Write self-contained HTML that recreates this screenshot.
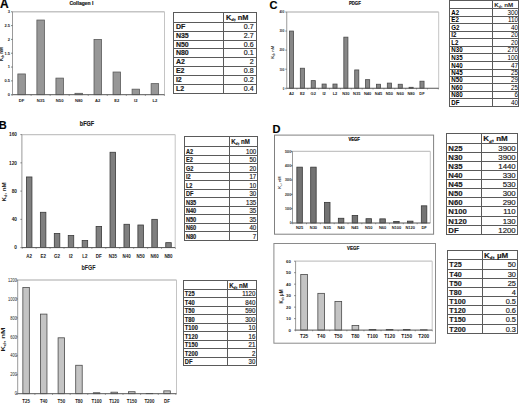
<!DOCTYPE html><html><head><meta charset="utf-8"><style>html,body{margin:0;padding:0;background:#fff;}svg{display:block;}svg text.t{stroke:#1a1a1a;stroke-width:0.18px;}</style></head><body>
<svg width="520" height="403" viewBox="0 0 520 403">
<rect width="520" height="403" fill="#fff"/>
<text x="0" y="8.4" font-size="12" text-anchor="start" font-weight="bold" fill="#000" font-family="Liberation Sans"  class="t">A</text>
<text x="81.4" y="5.3" font-size="5" text-anchor="middle" font-weight="bold" fill="#1a1a1a" font-family="Liberation Sans"  class="t">Collagen I</text>
<line x1="12.5" y1="11.75" x2="164.5" y2="11.75" stroke="#c4c4c4" stroke-width="1.3"/>
<line x1="164.5" y1="11.75" x2="164.5" y2="94.7" stroke="#c4c4c4" stroke-width="1"/>
<rect x="17.85" y="73.96" width="7.5" height="20.74" fill="#979797" stroke="#5a5a5a" stroke-width="0.8"/>
<rect x="36.89" y="20.04" width="7.5" height="74.66" fill="#979797" stroke="#5a5a5a" stroke-width="0.8"/>
<rect x="55.93" y="78.11" width="7.5" height="16.59" fill="#979797" stroke="#5a5a5a" stroke-width="0.8"/>
<rect x="74.97" y="93.32" width="7.5" height="1.38" fill="#979797" stroke="#5a5a5a" stroke-width="0.8"/>
<rect x="94.01" y="39.4" width="7.5" height="55.3" fill="#979797" stroke="#5a5a5a" stroke-width="0.8"/>
<rect x="113.05" y="72.03" width="7.5" height="22.67" fill="#979797" stroke="#5a5a5a" stroke-width="0.8"/>
<rect x="132.09" y="89.17" width="7.5" height="5.53" fill="#979797" stroke="#5a5a5a" stroke-width="0.8"/>
<rect x="151.13" y="83.64" width="7.5" height="11.06" fill="#979797" stroke="#5a5a5a" stroke-width="0.8"/>
<line x1="12.5" y1="11.75" x2="12.5" y2="94.7" stroke="#9a9a9a" stroke-width="1.0"/>
<line x1="12.5" y1="94.7" x2="164.5" y2="94.7" stroke="#555555" stroke-width="1.0"/>
<line x1="11.0" y1="94.7" x2="12.5" y2="94.7" stroke="#555555" stroke-width="0.7"/>
<text x="10.1" y="96.14" font-size="4.0" text-anchor="end" font-weight="bold" fill="#1a1a1a" font-family="Liberation Sans" >0</text>
<line x1="11.0" y1="80.88" x2="12.5" y2="80.88" stroke="#555555" stroke-width="0.7"/>
<text x="10.1" y="82.31" font-size="4.0" text-anchor="end" font-weight="bold" fill="#1a1a1a" font-family="Liberation Sans" >0.5</text>
<line x1="11.0" y1="67.05" x2="12.5" y2="67.05" stroke="#555555" stroke-width="0.7"/>
<text x="10.1" y="68.49" font-size="4.0" text-anchor="end" font-weight="bold" fill="#1a1a1a" font-family="Liberation Sans" >1</text>
<line x1="11.0" y1="53.23" x2="12.5" y2="53.23" stroke="#555555" stroke-width="0.7"/>
<text x="10.1" y="54.66" font-size="4.0" text-anchor="end" font-weight="bold" fill="#1a1a1a" font-family="Liberation Sans" >1.5</text>
<line x1="11.0" y1="39.4" x2="12.5" y2="39.4" stroke="#555555" stroke-width="0.7"/>
<text x="10.1" y="40.84" font-size="4.0" text-anchor="end" font-weight="bold" fill="#1a1a1a" font-family="Liberation Sans" >2</text>
<line x1="11.0" y1="25.58" x2="12.5" y2="25.58" stroke="#555555" stroke-width="0.7"/>
<text x="10.1" y="27.02" font-size="4.0" text-anchor="end" font-weight="bold" fill="#1a1a1a" font-family="Liberation Sans" >2.5</text>
<line x1="11.0" y1="11.75" x2="12.5" y2="11.75" stroke="#555555" stroke-width="0.7"/>
<text x="10.1" y="13.19" font-size="4.0" text-anchor="end" font-weight="bold" fill="#1a1a1a" font-family="Liberation Sans" >3</text>
<line x1="12.08" y1="94.7" x2="12.08" y2="95.9" stroke="#555555" stroke-width="0.6"/>
<line x1="31.12" y1="94.7" x2="31.12" y2="95.9" stroke="#555555" stroke-width="0.6"/>
<line x1="50.16" y1="94.7" x2="50.16" y2="95.9" stroke="#555555" stroke-width="0.6"/>
<line x1="69.2" y1="94.7" x2="69.2" y2="95.9" stroke="#555555" stroke-width="0.6"/>
<line x1="88.24" y1="94.7" x2="88.24" y2="95.9" stroke="#555555" stroke-width="0.6"/>
<line x1="107.28" y1="94.7" x2="107.28" y2="95.9" stroke="#555555" stroke-width="0.6"/>
<line x1="126.32" y1="94.7" x2="126.32" y2="95.9" stroke="#555555" stroke-width="0.6"/>
<line x1="145.36" y1="94.7" x2="145.36" y2="95.9" stroke="#555555" stroke-width="0.6"/>
<line x1="164.4" y1="94.7" x2="164.4" y2="95.9" stroke="#555555" stroke-width="0.6"/>
<text x="21.6" y="101.6" font-size="4.2" text-anchor="middle" font-weight="bold" fill="#1a1a1a" font-family="Liberation Sans" >DF</text>
<text x="40.64" y="101.6" font-size="4.2" text-anchor="middle" font-weight="bold" fill="#1a1a1a" font-family="Liberation Sans" >N35</text>
<text x="59.68" y="101.6" font-size="4.2" text-anchor="middle" font-weight="bold" fill="#1a1a1a" font-family="Liberation Sans" >N50</text>
<text x="78.72" y="101.6" font-size="4.2" text-anchor="middle" font-weight="bold" fill="#1a1a1a" font-family="Liberation Sans" >N80</text>
<text x="97.76" y="101.6" font-size="4.2" text-anchor="middle" font-weight="bold" fill="#1a1a1a" font-family="Liberation Sans" >A2</text>
<text x="116.8" y="101.6" font-size="4.2" text-anchor="middle" font-weight="bold" fill="#1a1a1a" font-family="Liberation Sans" >E2</text>
<text x="135.84" y="101.6" font-size="4.2" text-anchor="middle" font-weight="bold" fill="#1a1a1a" font-family="Liberation Sans" >I2</text>
<text x="154.88" y="101.6" font-size="4.2" text-anchor="middle" font-weight="bold" fill="#1a1a1a" font-family="Liberation Sans" >L2</text>
<text textLength="13.7" lengthAdjust="spacingAndGlyphs" x="3.2" y="54.2" font-size="4.5" text-anchor="middle" font-weight="bold" fill="#1a1a1a" font-family="Liberation Sans" transform="rotate(-90 3.2 54.2)">K<tspan font-size="2.79" dy="0.77">d</tspan><tspan dy="-0.77">, nM</tspan></text>
<rect x="173.5" y="12.5" width="83" height="81" fill="none" stroke="#5a5a5a" stroke-width="1"/>
<line x1="223.5" y1="12.5" x2="223.5" y2="93.5" stroke="#5a5a5a" stroke-width="1"/>
<line x1="173.5" y1="22.5" x2="256.5" y2="22.5" stroke="#5a5a5a" stroke-width="1"/>
<line x1="173.5" y1="31.5" x2="256.5" y2="31.5" stroke="#5a5a5a" stroke-width="1"/>
<line x1="173.5" y1="40.5" x2="256.5" y2="40.5" stroke="#5a5a5a" stroke-width="1"/>
<line x1="173.5" y1="48.5" x2="256.5" y2="48.5" stroke="#5a5a5a" stroke-width="1"/>
<line x1="173.5" y1="57.5" x2="256.5" y2="57.5" stroke="#5a5a5a" stroke-width="1"/>
<line x1="173.5" y1="66.5" x2="256.5" y2="66.5" stroke="#5a5a5a" stroke-width="1"/>
<line x1="173.5" y1="75.5" x2="256.5" y2="75.5" stroke="#5a5a5a" stroke-width="1"/>
<line x1="173.5" y1="84.5" x2="256.5" y2="84.5" stroke="#5a5a5a" stroke-width="1"/>
<text class="t" transform="translate(225.9 19.86) scale(1.0 1)" font-size="7.4" font-weight="bold" fill="#1a1a1a" font-family="Liberation Sans">K<tspan font-size="4.07" dy="1.33">d</tspan><tspan dy="-1.33">, nM</tspan></text>
<text x="175.9" y="29.22" font-size="7" text-anchor="start" font-weight="bold" fill="#1a1a1a" font-family="Liberation Sans"  class="t">DF</text>
<text x="253.6" y="29.22" font-size="7" text-anchor="end" font-weight="normal" fill="#1a1a1a" font-family="Liberation Sans"  class="t">0.7</text>
<text x="175.9" y="38.22" font-size="7" text-anchor="start" font-weight="bold" fill="#1a1a1a" font-family="Liberation Sans"  class="t">N35</text>
<text x="253.6" y="38.22" font-size="7" text-anchor="end" font-weight="normal" fill="#1a1a1a" font-family="Liberation Sans"  class="t">2.7</text>
<text x="175.9" y="46.72" font-size="7" text-anchor="start" font-weight="bold" fill="#1a1a1a" font-family="Liberation Sans"  class="t">N50</text>
<text x="253.6" y="46.72" font-size="7" text-anchor="end" font-weight="normal" fill="#1a1a1a" font-family="Liberation Sans"  class="t">0.6</text>
<text x="175.9" y="55.22" font-size="7" text-anchor="start" font-weight="bold" fill="#1a1a1a" font-family="Liberation Sans"  class="t">N80</text>
<text x="253.6" y="55.22" font-size="7" text-anchor="end" font-weight="normal" fill="#1a1a1a" font-family="Liberation Sans"  class="t">0.1</text>
<text x="175.9" y="64.22" font-size="7" text-anchor="start" font-weight="bold" fill="#1a1a1a" font-family="Liberation Sans"  class="t">A2</text>
<text x="253.6" y="64.22" font-size="7" text-anchor="end" font-weight="normal" fill="#1a1a1a" font-family="Liberation Sans"  class="t">2</text>
<text x="175.9" y="73.22" font-size="7" text-anchor="start" font-weight="bold" fill="#1a1a1a" font-family="Liberation Sans"  class="t">E2</text>
<text x="253.6" y="73.22" font-size="7" text-anchor="end" font-weight="normal" fill="#1a1a1a" font-family="Liberation Sans"  class="t">0.8</text>
<text x="175.9" y="82.22" font-size="7" text-anchor="start" font-weight="bold" fill="#1a1a1a" font-family="Liberation Sans"  class="t">I2</text>
<text x="253.6" y="82.22" font-size="7" text-anchor="end" font-weight="normal" fill="#1a1a1a" font-family="Liberation Sans"  class="t">0.2</text>
<text x="175.9" y="91.22" font-size="7" text-anchor="start" font-weight="bold" fill="#1a1a1a" font-family="Liberation Sans"  class="t">L2</text>
<text x="253.6" y="91.22" font-size="7" text-anchor="end" font-weight="normal" fill="#1a1a1a" font-family="Liberation Sans"  class="t">0.4</text>
<text x="-1.2" y="128.9" font-size="11" text-anchor="start" font-weight="bold" fill="#000" font-family="Liberation Sans"  class="t">B</text>
<text class="t" transform="translate(86.9 125.7) scale(0.82 1)" font-size="6.6" text-anchor="middle" font-weight="bold" fill="#1a1a1a" font-family="Liberation Sans">bFGF</text>
<line x1="21.9" y1="134.6" x2="175.2" y2="134.6" stroke="#c4c4c4" stroke-width="1.3"/>
<line x1="175.2" y1="134.6" x2="175.2" y2="247.6" stroke="#c4c4c4" stroke-width="1"/>
<rect x="26.45" y="176.97" width="5.5" height="70.62" fill="#7f7f7f" stroke="#3a3a3a" stroke-width="0.8"/>
<rect x="40.38" y="212.29" width="5.5" height="35.31" fill="#7f7f7f" stroke="#3a3a3a" stroke-width="0.8"/>
<rect x="54.31" y="233.47" width="5.5" height="14.12" fill="#7f7f7f" stroke="#3a3a3a" stroke-width="0.8"/>
<rect x="68.24" y="235.59" width="5.5" height="12.01" fill="#7f7f7f" stroke="#3a3a3a" stroke-width="0.8"/>
<rect x="82.17" y="240.54" width="5.5" height="7.06" fill="#7f7f7f" stroke="#3a3a3a" stroke-width="0.8"/>
<rect x="96.1" y="226.41" width="5.5" height="21.19" fill="#7f7f7f" stroke="#3a3a3a" stroke-width="0.8"/>
<rect x="110.03" y="152.26" width="5.5" height="95.34" fill="#7f7f7f" stroke="#3a3a3a" stroke-width="0.8"/>
<rect x="123.96" y="224.29" width="5.5" height="23.31" fill="#7f7f7f" stroke="#3a3a3a" stroke-width="0.8"/>
<rect x="137.89" y="225" width="5.5" height="22.6" fill="#7f7f7f" stroke="#3a3a3a" stroke-width="0.8"/>
<rect x="151.82" y="219.35" width="5.5" height="28.25" fill="#7f7f7f" stroke="#3a3a3a" stroke-width="0.8"/>
<rect x="165.75" y="242.66" width="5.5" height="4.94" fill="#7f7f7f" stroke="#3a3a3a" stroke-width="0.8"/>
<line x1="21.9" y1="134.6" x2="21.9" y2="247.6" stroke="#9a9a9a" stroke-width="1.0"/>
<line x1="21.9" y1="247.6" x2="175.2" y2="247.6" stroke="#555555" stroke-width="1.0"/>
<line x1="20.4" y1="247.6" x2="21.9" y2="247.6" stroke="#555555" stroke-width="0.7"/>
<text x="17" y="249.33" font-size="4.8" text-anchor="end" font-weight="bold" fill="#1a1a1a" font-family="Liberation Sans" >0</text>
<line x1="20.4" y1="219.35" x2="21.9" y2="219.35" stroke="#555555" stroke-width="0.7"/>
<text x="17" y="221.08" font-size="4.8" text-anchor="end" font-weight="bold" fill="#1a1a1a" font-family="Liberation Sans" >40</text>
<line x1="20.4" y1="191.1" x2="21.9" y2="191.1" stroke="#555555" stroke-width="0.7"/>
<text x="17" y="192.83" font-size="4.8" text-anchor="end" font-weight="bold" fill="#1a1a1a" font-family="Liberation Sans" >80</text>
<line x1="20.4" y1="162.85" x2="21.9" y2="162.85" stroke="#555555" stroke-width="0.7"/>
<text x="17" y="164.58" font-size="4.8" text-anchor="end" font-weight="bold" fill="#1a1a1a" font-family="Liberation Sans" >120</text>
<line x1="20.4" y1="134.6" x2="21.9" y2="134.6" stroke="#555555" stroke-width="0.7"/>
<text x="17" y="136.33" font-size="4.8" text-anchor="end" font-weight="bold" fill="#1a1a1a" font-family="Liberation Sans" >160</text>
<line x1="22.23" y1="247.6" x2="22.23" y2="248.79999999999998" stroke="#555555" stroke-width="0.6"/>
<line x1="36.16" y1="247.6" x2="36.16" y2="248.79999999999998" stroke="#555555" stroke-width="0.6"/>
<line x1="50.09" y1="247.6" x2="50.09" y2="248.79999999999998" stroke="#555555" stroke-width="0.6"/>
<line x1="64.03" y1="247.6" x2="64.03" y2="248.79999999999998" stroke="#555555" stroke-width="0.6"/>
<line x1="77.95" y1="247.6" x2="77.95" y2="248.79999999999998" stroke="#555555" stroke-width="0.6"/>
<line x1="91.89" y1="247.6" x2="91.89" y2="248.79999999999998" stroke="#555555" stroke-width="0.6"/>
<line x1="105.81" y1="247.6" x2="105.81" y2="248.79999999999998" stroke="#555555" stroke-width="0.6"/>
<line x1="119.75" y1="247.6" x2="119.75" y2="248.79999999999998" stroke="#555555" stroke-width="0.6"/>
<line x1="133.67" y1="247.6" x2="133.67" y2="248.79999999999998" stroke="#555555" stroke-width="0.6"/>
<line x1="147.6" y1="247.6" x2="147.6" y2="248.79999999999998" stroke="#555555" stroke-width="0.6"/>
<line x1="161.53" y1="247.6" x2="161.53" y2="248.79999999999998" stroke="#555555" stroke-width="0.6"/>
<line x1="175.46" y1="247.6" x2="175.46" y2="248.79999999999998" stroke="#555555" stroke-width="0.6"/>
<text transform="translate(29.2 257.5) scale(0.9 1)" font-size="5" text-anchor="middle" font-weight="bold" fill="#1a1a1a" font-family="Liberation Sans">A2</text>
<text transform="translate(43.13 257.5) scale(0.9 1)" font-size="5" text-anchor="middle" font-weight="bold" fill="#1a1a1a" font-family="Liberation Sans">E2</text>
<text transform="translate(57.06 257.5) scale(0.9 1)" font-size="5" text-anchor="middle" font-weight="bold" fill="#1a1a1a" font-family="Liberation Sans">G2</text>
<text transform="translate(70.99 257.5) scale(0.9 1)" font-size="5" text-anchor="middle" font-weight="bold" fill="#1a1a1a" font-family="Liberation Sans">I2</text>
<text transform="translate(84.92 257.5) scale(0.9 1)" font-size="5" text-anchor="middle" font-weight="bold" fill="#1a1a1a" font-family="Liberation Sans">L2</text>
<text transform="translate(98.85 257.5) scale(0.9 1)" font-size="5" text-anchor="middle" font-weight="bold" fill="#1a1a1a" font-family="Liberation Sans">DF</text>
<text transform="translate(112.78 257.5) scale(0.9 1)" font-size="5" text-anchor="middle" font-weight="bold" fill="#1a1a1a" font-family="Liberation Sans">N35</text>
<text transform="translate(126.71 257.5) scale(0.9 1)" font-size="5" text-anchor="middle" font-weight="bold" fill="#1a1a1a" font-family="Liberation Sans">N40</text>
<text transform="translate(140.64 257.5) scale(0.9 1)" font-size="5" text-anchor="middle" font-weight="bold" fill="#1a1a1a" font-family="Liberation Sans">N50</text>
<text transform="translate(154.57 257.5) scale(0.9 1)" font-size="5" text-anchor="middle" font-weight="bold" fill="#1a1a1a" font-family="Liberation Sans">N60</text>
<text transform="translate(168.5 257.5) scale(0.9 1)" font-size="5" text-anchor="middle" font-weight="bold" fill="#1a1a1a" font-family="Liberation Sans">N80</text>
<text textLength="19.2" lengthAdjust="spacingAndGlyphs" x="5.7" y="192" font-size="5.5" text-anchor="middle" font-weight="bold" fill="#1a1a1a" font-family="Liberation Sans" transform="rotate(-90 5.7 192)">K<tspan font-size="3.41" dy="0.94">d</tspan><tspan dy="-0.94">, nM</tspan></text>
<rect x="184.5" y="136.5" width="73" height="104" fill="none" stroke="#5a5a5a" stroke-width="1"/>
<line x1="229.5" y1="136.5" x2="229.5" y2="240.5" stroke="#5a5a5a" stroke-width="1"/>
<line x1="184.5" y1="146.5" x2="257.5" y2="146.5" stroke="#5a5a5a" stroke-width="1"/>
<line x1="184.5" y1="155.5" x2="257.5" y2="155.5" stroke="#5a5a5a" stroke-width="1"/>
<line x1="184.5" y1="163.5" x2="257.5" y2="163.5" stroke="#5a5a5a" stroke-width="1"/>
<line x1="184.5" y1="172.5" x2="257.5" y2="172.5" stroke="#5a5a5a" stroke-width="1"/>
<line x1="184.5" y1="180.5" x2="257.5" y2="180.5" stroke="#5a5a5a" stroke-width="1"/>
<line x1="184.5" y1="189.5" x2="257.5" y2="189.5" stroke="#5a5a5a" stroke-width="1"/>
<line x1="184.5" y1="197.5" x2="257.5" y2="197.5" stroke="#5a5a5a" stroke-width="1"/>
<line x1="184.5" y1="206.5" x2="257.5" y2="206.5" stroke="#5a5a5a" stroke-width="1"/>
<line x1="184.5" y1="214.5" x2="257.5" y2="214.5" stroke="#5a5a5a" stroke-width="1"/>
<line x1="184.5" y1="223.5" x2="257.5" y2="223.5" stroke="#5a5a5a" stroke-width="1"/>
<line x1="184.5" y1="231.5" x2="257.5" y2="231.5" stroke="#5a5a5a" stroke-width="1"/>
<text class="t" transform="translate(231.2 144.09) scale(0.85 1)" font-size="7.2" font-weight="bold" fill="#1a1a1a" font-family="Liberation Sans">K<tspan font-size="3.96" dy="1.3">d</tspan><tspan dy="-1.3">, nM</tspan></text>
<text class="t" transform="translate(185.9 153.59) scale(0.78 1)" font-size="7.2" text-anchor="start" font-weight="bold" fill="#1a1a1a" font-family="Liberation Sans">A2</text>
<text class="t" transform="translate(256.2 153.59) scale(0.85 1)" font-size="7.2" text-anchor="end" font-weight="normal" fill="#1a1a1a" font-family="Liberation Sans">100</text>
<text class="t" transform="translate(185.9 162.09) scale(0.78 1)" font-size="7.2" text-anchor="start" font-weight="bold" fill="#1a1a1a" font-family="Liberation Sans">E2</text>
<text class="t" transform="translate(256.2 162.09) scale(0.85 1)" font-size="7.2" text-anchor="end" font-weight="normal" fill="#1a1a1a" font-family="Liberation Sans">50</text>
<text class="t" transform="translate(185.9 170.59) scale(0.78 1)" font-size="7.2" text-anchor="start" font-weight="bold" fill="#1a1a1a" font-family="Liberation Sans">G2</text>
<text class="t" transform="translate(256.2 170.59) scale(0.85 1)" font-size="7.2" text-anchor="end" font-weight="normal" fill="#1a1a1a" font-family="Liberation Sans">20</text>
<text class="t" transform="translate(185.9 179.09) scale(0.78 1)" font-size="7.2" text-anchor="start" font-weight="bold" fill="#1a1a1a" font-family="Liberation Sans">I2</text>
<text class="t" transform="translate(256.2 179.09) scale(0.85 1)" font-size="7.2" text-anchor="end" font-weight="normal" fill="#1a1a1a" font-family="Liberation Sans">17</text>
<text class="t" transform="translate(185.9 187.59) scale(0.78 1)" font-size="7.2" text-anchor="start" font-weight="bold" fill="#1a1a1a" font-family="Liberation Sans">L2</text>
<text class="t" transform="translate(256.2 187.59) scale(0.85 1)" font-size="7.2" text-anchor="end" font-weight="normal" fill="#1a1a1a" font-family="Liberation Sans">10</text>
<text class="t" transform="translate(185.9 196.09) scale(0.78 1)" font-size="7.2" text-anchor="start" font-weight="bold" fill="#1a1a1a" font-family="Liberation Sans">DF</text>
<text class="t" transform="translate(256.2 196.09) scale(0.85 1)" font-size="7.2" text-anchor="end" font-weight="normal" fill="#1a1a1a" font-family="Liberation Sans">30</text>
<text class="t" transform="translate(185.9 204.59) scale(0.78 1)" font-size="7.2" text-anchor="start" font-weight="bold" fill="#1a1a1a" font-family="Liberation Sans">N35</text>
<text class="t" transform="translate(256.2 204.59) scale(0.85 1)" font-size="7.2" text-anchor="end" font-weight="normal" fill="#1a1a1a" font-family="Liberation Sans">135</text>
<text class="t" transform="translate(185.9 213.09) scale(0.78 1)" font-size="7.2" text-anchor="start" font-weight="bold" fill="#1a1a1a" font-family="Liberation Sans">N40</text>
<text class="t" transform="translate(256.2 213.09) scale(0.85 1)" font-size="7.2" text-anchor="end" font-weight="normal" fill="#1a1a1a" font-family="Liberation Sans">35</text>
<text class="t" transform="translate(185.9 221.59) scale(0.78 1)" font-size="7.2" text-anchor="start" font-weight="bold" fill="#1a1a1a" font-family="Liberation Sans">N50</text>
<text class="t" transform="translate(256.2 221.59) scale(0.85 1)" font-size="7.2" text-anchor="end" font-weight="normal" fill="#1a1a1a" font-family="Liberation Sans">35</text>
<text class="t" transform="translate(185.9 230.09) scale(0.78 1)" font-size="7.2" text-anchor="start" font-weight="bold" fill="#1a1a1a" font-family="Liberation Sans">N60</text>
<text class="t" transform="translate(256.2 230.09) scale(0.85 1)" font-size="7.2" text-anchor="end" font-weight="normal" fill="#1a1a1a" font-family="Liberation Sans">40</text>
<text class="t" transform="translate(185.9 238.59) scale(0.78 1)" font-size="7.2" text-anchor="start" font-weight="bold" fill="#1a1a1a" font-family="Liberation Sans">N80</text>
<text class="t" transform="translate(256.2 238.59) scale(0.85 1)" font-size="7.2" text-anchor="end" font-weight="normal" fill="#1a1a1a" font-family="Liberation Sans">7</text>
<text transform="translate(88.5 269.5) scale(0.85 1)" font-size="6.4" text-anchor="middle" font-weight="bold" fill="#222" font-family="Liberation Sans">bFGF</text>
<line x1="17.7" y1="280.0" x2="176.5" y2="280.0" stroke="#c4c4c4" stroke-width="1.3"/>
<line x1="176.5" y1="280.0" x2="176.5" y2="393.7" stroke="#c4c4c4" stroke-width="1"/>
<rect x="22.85" y="287.58" width="6.5" height="106.12" fill="#c4c4c4" stroke="#4a4a4a" stroke-width="0.8"/>
<rect x="40.47" y="314.11" width="6.5" height="79.59" fill="#c4c4c4" stroke="#4a4a4a" stroke-width="0.8"/>
<rect x="58.09" y="337.8" width="6.5" height="55.9" fill="#c4c4c4" stroke="#4a4a4a" stroke-width="0.8"/>
<rect x="75.71" y="365.27" width="6.5" height="28.43" fill="#c4c4c4" stroke="#4a4a4a" stroke-width="0.8"/>
<rect x="93.33" y="392.75" width="6.5" height="0.95" fill="#c4c4c4" stroke="#4a4a4a" stroke-width="0.8"/>
<rect x="110.95" y="392.18" width="6.5" height="1.52" fill="#c4c4c4" stroke="#4a4a4a" stroke-width="0.8"/>
<rect x="128.57" y="391.71" width="6.5" height="1.99" fill="#c4c4c4" stroke="#4a4a4a" stroke-width="0.8"/>
<rect x="146.19" y="393.51" width="6.5" height="0.19" fill="#c4c4c4" stroke="#4a4a4a" stroke-width="0.8"/>
<rect x="163.81" y="390.86" width="6.5" height="2.84" fill="#c4c4c4" stroke="#4a4a4a" stroke-width="0.8"/>
<line x1="17.7" y1="280.0" x2="17.7" y2="393.7" stroke="#9a9a9a" stroke-width="1.0"/>
<line x1="17.7" y1="393.7" x2="176.5" y2="393.7" stroke="#555555" stroke-width="1.0"/>
<line x1="16.2" y1="393.7" x2="17.7" y2="393.7" stroke="#555555" stroke-width="0.7"/>
<text transform="translate(16.9 395.36) scale(0.86 1)" font-size="4.6" text-anchor="end" font-weight="normal" fill="#1a1a1a" font-family="Liberation Sans">0</text>
<line x1="16.2" y1="374.75" x2="17.7" y2="374.75" stroke="#555555" stroke-width="0.7"/>
<text transform="translate(16.9 376.41) scale(0.86 1)" font-size="4.6" text-anchor="end" font-weight="normal" fill="#1a1a1a" font-family="Liberation Sans">200</text>
<line x1="16.2" y1="355.8" x2="17.7" y2="355.8" stroke="#555555" stroke-width="0.7"/>
<text transform="translate(16.9 357.46) scale(0.86 1)" font-size="4.6" text-anchor="end" font-weight="normal" fill="#1a1a1a" font-family="Liberation Sans">400</text>
<line x1="16.2" y1="336.85" x2="17.7" y2="336.85" stroke="#555555" stroke-width="0.7"/>
<text transform="translate(16.9 338.51) scale(0.86 1)" font-size="4.6" text-anchor="end" font-weight="normal" fill="#1a1a1a" font-family="Liberation Sans">600</text>
<line x1="16.2" y1="317.9" x2="17.7" y2="317.9" stroke="#555555" stroke-width="0.7"/>
<text transform="translate(16.9 319.56) scale(0.86 1)" font-size="4.6" text-anchor="end" font-weight="normal" fill="#1a1a1a" font-family="Liberation Sans">800</text>
<line x1="16.2" y1="298.95" x2="17.7" y2="298.95" stroke="#555555" stroke-width="0.7"/>
<text transform="translate(16.9 300.61) scale(0.86 1)" font-size="4.6" text-anchor="end" font-weight="normal" fill="#1a1a1a" font-family="Liberation Sans">1000</text>
<line x1="16.2" y1="280" x2="17.7" y2="280" stroke="#555555" stroke-width="0.7"/>
<text transform="translate(16.9 281.66) scale(0.86 1)" font-size="4.6" text-anchor="end" font-weight="normal" fill="#1a1a1a" font-family="Liberation Sans">1200</text>
<line x1="17.29" y1="393.7" x2="17.29" y2="394.9" stroke="#555555" stroke-width="0.6"/>
<line x1="34.91" y1="393.7" x2="34.91" y2="394.9" stroke="#555555" stroke-width="0.6"/>
<line x1="52.53" y1="393.7" x2="52.53" y2="394.9" stroke="#555555" stroke-width="0.6"/>
<line x1="70.15" y1="393.7" x2="70.15" y2="394.9" stroke="#555555" stroke-width="0.6"/>
<line x1="87.77" y1="393.7" x2="87.77" y2="394.9" stroke="#555555" stroke-width="0.6"/>
<line x1="105.39" y1="393.7" x2="105.39" y2="394.9" stroke="#555555" stroke-width="0.6"/>
<line x1="123.01" y1="393.7" x2="123.01" y2="394.9" stroke="#555555" stroke-width="0.6"/>
<line x1="140.63" y1="393.7" x2="140.63" y2="394.9" stroke="#555555" stroke-width="0.6"/>
<line x1="158.25" y1="393.7" x2="158.25" y2="394.9" stroke="#555555" stroke-width="0.6"/>
<line x1="175.87" y1="393.7" x2="175.87" y2="394.9" stroke="#555555" stroke-width="0.6"/>
<text transform="translate(26.1 402.7) scale(0.79 1)" font-size="5.6" text-anchor="middle" font-weight="bold" fill="#1a1a1a" font-family="Liberation Sans">T25</text>
<text transform="translate(43.72 402.7) scale(0.79 1)" font-size="5.6" text-anchor="middle" font-weight="bold" fill="#1a1a1a" font-family="Liberation Sans">T40</text>
<text transform="translate(61.34 402.7) scale(0.79 1)" font-size="5.6" text-anchor="middle" font-weight="bold" fill="#1a1a1a" font-family="Liberation Sans">T50</text>
<text transform="translate(78.96 402.7) scale(0.79 1)" font-size="5.6" text-anchor="middle" font-weight="bold" fill="#1a1a1a" font-family="Liberation Sans">T80</text>
<text transform="translate(96.58 402.7) scale(0.79 1)" font-size="5.6" text-anchor="middle" font-weight="bold" fill="#1a1a1a" font-family="Liberation Sans">T100</text>
<text transform="translate(114.2 402.7) scale(0.79 1)" font-size="5.6" text-anchor="middle" font-weight="bold" fill="#1a1a1a" font-family="Liberation Sans">T120</text>
<text transform="translate(131.82 402.7) scale(0.79 1)" font-size="5.6" text-anchor="middle" font-weight="bold" fill="#1a1a1a" font-family="Liberation Sans">T150</text>
<text transform="translate(149.44 402.7) scale(0.79 1)" font-size="5.6" text-anchor="middle" font-weight="bold" fill="#1a1a1a" font-family="Liberation Sans">T200</text>
<text transform="translate(167.06 402.7) scale(0.79 1)" font-size="5.6" text-anchor="middle" font-weight="bold" fill="#1a1a1a" font-family="Liberation Sans">DF</text>
<text textLength="24" lengthAdjust="spacingAndGlyphs" x="5.3" y="339.5" font-size="6" text-anchor="middle" font-weight="bold" fill="#1a1a1a" font-family="Liberation Sans" transform="rotate(-90 5.3 339.5)">K<tspan font-size="3.72" dy="1.02">d</tspan><tspan dy="-1.02">, nM</tspan></text>
<rect x="183.5" y="280.5" width="73" height="85" fill="none" stroke="#5a5a5a" stroke-width="1"/>
<line x1="227.5" y1="280.5" x2="227.5" y2="365.5" stroke="#5a5a5a" stroke-width="1"/>
<line x1="183.5" y1="289.5" x2="256.5" y2="289.5" stroke="#5a5a5a" stroke-width="1"/>
<line x1="183.5" y1="297.5" x2="256.5" y2="297.5" stroke="#5a5a5a" stroke-width="1"/>
<line x1="183.5" y1="306.5" x2="256.5" y2="306.5" stroke="#5a5a5a" stroke-width="1"/>
<line x1="183.5" y1="314.5" x2="256.5" y2="314.5" stroke="#5a5a5a" stroke-width="1"/>
<line x1="183.5" y1="323.5" x2="256.5" y2="323.5" stroke="#5a5a5a" stroke-width="1"/>
<line x1="183.5" y1="331.5" x2="256.5" y2="331.5" stroke="#5a5a5a" stroke-width="1"/>
<line x1="183.5" y1="340.5" x2="256.5" y2="340.5" stroke="#5a5a5a" stroke-width="1"/>
<line x1="183.5" y1="348.5" x2="256.5" y2="348.5" stroke="#5a5a5a" stroke-width="1"/>
<line x1="183.5" y1="357.5" x2="256.5" y2="357.5" stroke="#5a5a5a" stroke-width="1"/>
<text class="t" transform="translate(229.2 287.59) scale(0.85 1)" font-size="7.2" font-weight="bold" fill="#1a1a1a" font-family="Liberation Sans">K<tspan font-size="3.96" dy="1.3">d</tspan><tspan dy="-1.3">, nM</tspan></text>
<text class="t" transform="translate(184.8 296.09) scale(0.8 1)" font-size="7.2" text-anchor="start" font-weight="bold" fill="#1a1a1a" font-family="Liberation Sans">T25</text>
<text class="t" transform="translate(255.4 296.09) scale(0.85 1)" font-size="7.2" text-anchor="end" font-weight="normal" fill="#1a1a1a" font-family="Liberation Sans">1120</text>
<text class="t" transform="translate(184.8 304.59) scale(0.8 1)" font-size="7.2" text-anchor="start" font-weight="bold" fill="#1a1a1a" font-family="Liberation Sans">T40</text>
<text class="t" transform="translate(255.4 304.59) scale(0.85 1)" font-size="7.2" text-anchor="end" font-weight="normal" fill="#1a1a1a" font-family="Liberation Sans">840</text>
<text class="t" transform="translate(184.8 313.09) scale(0.8 1)" font-size="7.2" text-anchor="start" font-weight="bold" fill="#1a1a1a" font-family="Liberation Sans">T50</text>
<text class="t" transform="translate(255.4 313.09) scale(0.85 1)" font-size="7.2" text-anchor="end" font-weight="normal" fill="#1a1a1a" font-family="Liberation Sans">590</text>
<text class="t" transform="translate(184.8 321.59) scale(0.8 1)" font-size="7.2" text-anchor="start" font-weight="bold" fill="#1a1a1a" font-family="Liberation Sans">T80</text>
<text class="t" transform="translate(255.4 321.59) scale(0.85 1)" font-size="7.2" text-anchor="end" font-weight="normal" fill="#1a1a1a" font-family="Liberation Sans">300</text>
<text class="t" transform="translate(184.8 330.09) scale(0.8 1)" font-size="7.2" text-anchor="start" font-weight="bold" fill="#1a1a1a" font-family="Liberation Sans">T100</text>
<text class="t" transform="translate(255.4 330.09) scale(0.85 1)" font-size="7.2" text-anchor="end" font-weight="normal" fill="#1a1a1a" font-family="Liberation Sans">10</text>
<text class="t" transform="translate(184.8 338.59) scale(0.8 1)" font-size="7.2" text-anchor="start" font-weight="bold" fill="#1a1a1a" font-family="Liberation Sans">T120</text>
<text class="t" transform="translate(255.4 338.59) scale(0.85 1)" font-size="7.2" text-anchor="end" font-weight="normal" fill="#1a1a1a" font-family="Liberation Sans">16</text>
<text class="t" transform="translate(184.8 347.09) scale(0.8 1)" font-size="7.2" text-anchor="start" font-weight="bold" fill="#1a1a1a" font-family="Liberation Sans">T150</text>
<text class="t" transform="translate(255.4 347.09) scale(0.85 1)" font-size="7.2" text-anchor="end" font-weight="normal" fill="#1a1a1a" font-family="Liberation Sans">21</text>
<text class="t" transform="translate(184.8 355.59) scale(0.8 1)" font-size="7.2" text-anchor="start" font-weight="bold" fill="#1a1a1a" font-family="Liberation Sans">T200</text>
<text class="t" transform="translate(255.4 355.59) scale(0.85 1)" font-size="7.2" text-anchor="end" font-weight="normal" fill="#1a1a1a" font-family="Liberation Sans">2</text>
<text class="t" transform="translate(184.8 364.09) scale(0.8 1)" font-size="7.2" text-anchor="start" font-weight="bold" fill="#1a1a1a" font-family="Liberation Sans">DF</text>
<text class="t" transform="translate(255.4 364.09) scale(0.85 1)" font-size="7.2" text-anchor="end" font-weight="normal" fill="#1a1a1a" font-family="Liberation Sans">30</text>
<text x="269.5" y="8.6" font-size="11" text-anchor="start" font-weight="bold" fill="#000" font-family="Liberation Sans"  class="t">C</text>
<text class="t" transform="translate(354.85 4.7) scale(0.9 1)" font-size="4.8" text-anchor="middle" font-weight="bold" fill="#1a1a1a" font-family="Liberation Sans">PDGF</text>
<line x1="286.75" y1="12" x2="438.7" y2="12" stroke="#c4c4c4" stroke-width="1.3"/>
<line x1="438.7" y1="12" x2="438.7" y2="88.25" stroke="#c4c4c4" stroke-width="1"/>
<rect x="289.45" y="31.06" width="4.1" height="57.19" fill="#878787" stroke="#4a4a4a" stroke-width="0.8"/>
<rect x="300.32" y="68.23" width="4.1" height="20.02" fill="#878787" stroke="#4a4a4a" stroke-width="0.8"/>
<rect x="311.2" y="80.62" width="4.1" height="7.62" fill="#878787" stroke="#4a4a4a" stroke-width="0.8"/>
<rect x="322.07" y="84.06" width="4.1" height="4.19" fill="#878787" stroke="#4a4a4a" stroke-width="0.8"/>
<rect x="332.95" y="84.06" width="4.1" height="4.19" fill="#878787" stroke="#4a4a4a" stroke-width="0.8"/>
<rect x="343.82" y="37.16" width="4.1" height="51.09" fill="#878787" stroke="#4a4a4a" stroke-width="0.8"/>
<rect x="354.7" y="69.95" width="4.1" height="18.3" fill="#878787" stroke="#4a4a4a" stroke-width="0.8"/>
<rect x="365.57" y="79.67" width="4.1" height="8.58" fill="#878787" stroke="#4a4a4a" stroke-width="0.8"/>
<rect x="376.45" y="84.25" width="4.1" height="4" fill="#878787" stroke="#4a4a4a" stroke-width="0.8"/>
<rect x="387.32" y="83.1" width="4.1" height="5.15" fill="#878787" stroke="#4a4a4a" stroke-width="0.8"/>
<rect x="398.2" y="84.25" width="4.1" height="4" fill="#878787" stroke="#4a4a4a" stroke-width="0.8"/>
<rect x="409.07" y="87.3" width="4.1" height="0.95" fill="#878787" stroke="#4a4a4a" stroke-width="0.8"/>
<rect x="419.95" y="81.2" width="4.1" height="7.05" fill="#878787" stroke="#4a4a4a" stroke-width="0.8"/>
<line x1="286.75" y1="12" x2="286.75" y2="88.25" stroke="#9a9a9a" stroke-width="1.0"/>
<line x1="286.75" y1="88.25" x2="438.7" y2="88.25" stroke="#555555" stroke-width="1.0"/>
<line x1="285.25" y1="88.25" x2="286.75" y2="88.25" stroke="#555555" stroke-width="0.7"/>
<text transform="translate(284.25 89.62) scale(0.75 1)" font-size="3.8" text-anchor="end" font-weight="bold" fill="#1a1a1a" font-family="Liberation Sans">0</text>
<line x1="285.25" y1="69.19" x2="286.75" y2="69.19" stroke="#555555" stroke-width="0.7"/>
<text transform="translate(284.25 70.56) scale(0.75 1)" font-size="3.8" text-anchor="end" font-weight="bold" fill="#1a1a1a" font-family="Liberation Sans">100</text>
<line x1="285.25" y1="50.12" x2="286.75" y2="50.12" stroke="#555555" stroke-width="0.7"/>
<text transform="translate(284.25 51.49) scale(0.75 1)" font-size="3.8" text-anchor="end" font-weight="bold" fill="#1a1a1a" font-family="Liberation Sans">200</text>
<line x1="285.25" y1="31.06" x2="286.75" y2="31.06" stroke="#555555" stroke-width="0.7"/>
<text transform="translate(284.25 32.43) scale(0.75 1)" font-size="3.8" text-anchor="end" font-weight="bold" fill="#1a1a1a" font-family="Liberation Sans">300</text>
<line x1="285.25" y1="12" x2="286.75" y2="12" stroke="#555555" stroke-width="0.7"/>
<text transform="translate(284.25 13.37) scale(0.75 1)" font-size="3.8" text-anchor="end" font-weight="bold" fill="#1a1a1a" font-family="Liberation Sans">400</text>
<line x1="286.06" y1="88.25" x2="286.06" y2="89.45" stroke="#555555" stroke-width="0.6"/>
<line x1="296.94" y1="88.25" x2="296.94" y2="89.45" stroke="#555555" stroke-width="0.6"/>
<line x1="307.81" y1="88.25" x2="307.81" y2="89.45" stroke="#555555" stroke-width="0.6"/>
<line x1="318.69" y1="88.25" x2="318.69" y2="89.45" stroke="#555555" stroke-width="0.6"/>
<line x1="329.56" y1="88.25" x2="329.56" y2="89.45" stroke="#555555" stroke-width="0.6"/>
<line x1="340.44" y1="88.25" x2="340.44" y2="89.45" stroke="#555555" stroke-width="0.6"/>
<line x1="351.31" y1="88.25" x2="351.31" y2="89.45" stroke="#555555" stroke-width="0.6"/>
<line x1="362.19" y1="88.25" x2="362.19" y2="89.45" stroke="#555555" stroke-width="0.6"/>
<line x1="373.06" y1="88.25" x2="373.06" y2="89.45" stroke="#555555" stroke-width="0.6"/>
<line x1="383.94" y1="88.25" x2="383.94" y2="89.45" stroke="#555555" stroke-width="0.6"/>
<line x1="394.81" y1="88.25" x2="394.81" y2="89.45" stroke="#555555" stroke-width="0.6"/>
<line x1="405.69" y1="88.25" x2="405.69" y2="89.45" stroke="#555555" stroke-width="0.6"/>
<line x1="416.56" y1="88.25" x2="416.56" y2="89.45" stroke="#555555" stroke-width="0.6"/>
<line x1="427.44" y1="88.25" x2="427.44" y2="89.45" stroke="#555555" stroke-width="0.6"/>
<line x1="438.31" y1="88.25" x2="438.31" y2="89.45" stroke="#555555" stroke-width="0.6"/>
<text x="291.5" y="94.7" font-size="4" text-anchor="middle" font-weight="bold" fill="#1a1a1a" font-family="Liberation Sans" >A2</text>
<text x="302.38" y="94.7" font-size="4" text-anchor="middle" font-weight="bold" fill="#1a1a1a" font-family="Liberation Sans" >E2</text>
<text x="313.25" y="94.7" font-size="4" text-anchor="middle" font-weight="bold" fill="#1a1a1a" font-family="Liberation Sans" >G2</text>
<text x="324.12" y="94.7" font-size="4" text-anchor="middle" font-weight="bold" fill="#1a1a1a" font-family="Liberation Sans" >I2</text>
<text x="335" y="94.7" font-size="4" text-anchor="middle" font-weight="bold" fill="#1a1a1a" font-family="Liberation Sans" >L2</text>
<text x="345.88" y="94.7" font-size="4" text-anchor="middle" font-weight="bold" fill="#1a1a1a" font-family="Liberation Sans" >N30</text>
<text x="356.75" y="94.7" font-size="4" text-anchor="middle" font-weight="bold" fill="#1a1a1a" font-family="Liberation Sans" >N35</text>
<text x="367.62" y="94.7" font-size="4" text-anchor="middle" font-weight="bold" fill="#1a1a1a" font-family="Liberation Sans" >N40</text>
<text x="378.5" y="94.7" font-size="4" text-anchor="middle" font-weight="bold" fill="#1a1a1a" font-family="Liberation Sans" >N45</text>
<text x="389.38" y="94.7" font-size="4" text-anchor="middle" font-weight="bold" fill="#1a1a1a" font-family="Liberation Sans" >N50</text>
<text x="400.25" y="94.7" font-size="4" text-anchor="middle" font-weight="bold" fill="#1a1a1a" font-family="Liberation Sans" >N60</text>
<text x="411.12" y="94.7" font-size="4" text-anchor="middle" font-weight="bold" fill="#1a1a1a" font-family="Liberation Sans" >N80</text>
<text x="422" y="94.7" font-size="4" text-anchor="middle" font-weight="bold" fill="#1a1a1a" font-family="Liberation Sans" >DF</text>
<text textLength="12.9" lengthAdjust="spacingAndGlyphs" x="274.4" y="52.3" font-size="4.2" text-anchor="middle" font-weight="bold" fill="#444" font-family="Liberation Sans" transform="rotate(-90 274.4 52.3)">K<tspan font-size="2.6" dy="0.71">d</tspan><tspan dy="-0.71">, nM</tspan></text>
<rect x="449.5" y="0.5" width="69" height="106" fill="none" stroke="#5a5a5a" stroke-width="1"/>
<line x1="492.5" y1="0.5" x2="492.5" y2="106.5" stroke="#5a5a5a" stroke-width="1"/>
<line x1="449.5" y1="8.5" x2="518.5" y2="8.5" stroke="#5a5a5a" stroke-width="1"/>
<line x1="449.5" y1="16.5" x2="518.5" y2="16.5" stroke="#5a5a5a" stroke-width="1"/>
<line x1="449.5" y1="23.5" x2="518.5" y2="23.5" stroke="#5a5a5a" stroke-width="1"/>
<line x1="449.5" y1="31.5" x2="518.5" y2="31.5" stroke="#5a5a5a" stroke-width="1"/>
<line x1="449.5" y1="38.5" x2="518.5" y2="38.5" stroke="#5a5a5a" stroke-width="1"/>
<line x1="449.5" y1="46.5" x2="518.5" y2="46.5" stroke="#5a5a5a" stroke-width="1"/>
<line x1="449.5" y1="53.5" x2="518.5" y2="53.5" stroke="#5a5a5a" stroke-width="1"/>
<line x1="449.5" y1="61.5" x2="518.5" y2="61.5" stroke="#5a5a5a" stroke-width="1"/>
<line x1="449.5" y1="69.5" x2="518.5" y2="69.5" stroke="#5a5a5a" stroke-width="1"/>
<line x1="449.5" y1="76.5" x2="518.5" y2="76.5" stroke="#5a5a5a" stroke-width="1"/>
<line x1="449.5" y1="83.5" x2="518.5" y2="83.5" stroke="#5a5a5a" stroke-width="1"/>
<line x1="449.5" y1="91.5" x2="518.5" y2="91.5" stroke="#5a5a5a" stroke-width="1"/>
<line x1="449.5" y1="98.5" x2="518.5" y2="98.5" stroke="#5a5a5a" stroke-width="1"/>
<text transform="translate(494.2 6.73) scale(1.0 1)" font-size="6.2" font-weight="bold" fill="#1a1a1a" font-family="Liberation Sans">K<tspan font-size="3.41" dy="1.12">d</tspan><tspan dy="-1.12">, nM</tspan></text>
<text transform="translate(451.3 14.84) scale(0.95 1)" font-size="6.5" text-anchor="start" font-weight="bold" fill="#000" font-family="Liberation Sans">A2</text>
<text transform="translate(518.1 14.84) scale(0.97 1)" font-size="6.5" text-anchor="end" font-weight="normal" fill="#000" font-family="Liberation Sans">300</text>
<text transform="translate(451.3 22.34) scale(0.95 1)" font-size="6.5" text-anchor="start" font-weight="bold" fill="#000" font-family="Liberation Sans">E2</text>
<text transform="translate(518.1 22.34) scale(0.97 1)" font-size="6.5" text-anchor="end" font-weight="normal" fill="#000" font-family="Liberation Sans">110</text>
<text transform="translate(451.3 29.84) scale(0.95 1)" font-size="6.5" text-anchor="start" font-weight="bold" fill="#000" font-family="Liberation Sans">G2</text>
<text transform="translate(518.1 29.84) scale(0.97 1)" font-size="6.5" text-anchor="end" font-weight="normal" fill="#000" font-family="Liberation Sans">40</text>
<text transform="translate(451.3 37.34) scale(0.95 1)" font-size="6.5" text-anchor="start" font-weight="bold" fill="#000" font-family="Liberation Sans">I2</text>
<text transform="translate(518.1 37.34) scale(0.97 1)" font-size="6.5" text-anchor="end" font-weight="normal" fill="#000" font-family="Liberation Sans">20</text>
<text transform="translate(451.3 44.84) scale(0.95 1)" font-size="6.5" text-anchor="start" font-weight="bold" fill="#000" font-family="Liberation Sans">L2</text>
<text transform="translate(518.1 44.84) scale(0.97 1)" font-size="6.5" text-anchor="end" font-weight="normal" fill="#000" font-family="Liberation Sans">20</text>
<text transform="translate(451.3 52.34) scale(0.95 1)" font-size="6.5" text-anchor="start" font-weight="bold" fill="#000" font-family="Liberation Sans">N30</text>
<text transform="translate(518.1 52.34) scale(0.97 1)" font-size="6.5" text-anchor="end" font-weight="normal" fill="#000" font-family="Liberation Sans">270</text>
<text transform="translate(451.3 59.84) scale(0.95 1)" font-size="6.5" text-anchor="start" font-weight="bold" fill="#000" font-family="Liberation Sans">N35</text>
<text transform="translate(518.1 59.84) scale(0.97 1)" font-size="6.5" text-anchor="end" font-weight="normal" fill="#000" font-family="Liberation Sans">100</text>
<text transform="translate(451.3 67.84) scale(0.95 1)" font-size="6.5" text-anchor="start" font-weight="bold" fill="#000" font-family="Liberation Sans">N40</text>
<text transform="translate(518.1 67.84) scale(0.97 1)" font-size="6.5" text-anchor="end" font-weight="normal" fill="#000" font-family="Liberation Sans">47</text>
<text transform="translate(451.3 75.34) scale(0.95 1)" font-size="6.5" text-anchor="start" font-weight="bold" fill="#000" font-family="Liberation Sans">N45</text>
<text transform="translate(518.1 75.34) scale(0.97 1)" font-size="6.5" text-anchor="end" font-weight="normal" fill="#000" font-family="Liberation Sans">25</text>
<text transform="translate(451.3 82.34) scale(0.95 1)" font-size="6.5" text-anchor="start" font-weight="bold" fill="#000" font-family="Liberation Sans">N50</text>
<text transform="translate(518.1 82.34) scale(0.97 1)" font-size="6.5" text-anchor="end" font-weight="normal" fill="#000" font-family="Liberation Sans">29</text>
<text transform="translate(451.3 89.84) scale(0.95 1)" font-size="6.5" text-anchor="start" font-weight="bold" fill="#000" font-family="Liberation Sans">N60</text>
<text transform="translate(518.1 89.84) scale(0.97 1)" font-size="6.5" text-anchor="end" font-weight="normal" fill="#000" font-family="Liberation Sans">25</text>
<text transform="translate(451.3 97.34) scale(0.95 1)" font-size="6.5" text-anchor="start" font-weight="bold" fill="#000" font-family="Liberation Sans">N80</text>
<text transform="translate(518.1 97.34) scale(0.97 1)" font-size="6.5" text-anchor="end" font-weight="normal" fill="#000" font-family="Liberation Sans">6</text>
<text transform="translate(451.3 104.84) scale(0.95 1)" font-size="6.5" text-anchor="start" font-weight="bold" fill="#000" font-family="Liberation Sans">DF</text>
<text transform="translate(518.1 104.84) scale(0.97 1)" font-size="6.5" text-anchor="end" font-weight="normal" fill="#000" font-family="Liberation Sans">40</text>
<text x="272.6" y="133.2" font-size="11" text-anchor="start" font-weight="bold" fill="#000" font-family="Liberation Sans"  class="t">D</text>
<rect x="274.5" y="135.1" width="159.1" height="99.1" fill="none" stroke="#808080" stroke-width="1"/>
<text class="t" transform="translate(354.15 141.2) scale(0.9 1)" font-size="4.7" text-anchor="middle" font-weight="bold" fill="#000" font-family="Liberation Sans">VEGF</text>
<line x1="292.5" y1="151.4" x2="430.3" y2="151.4" stroke="#c4c4c4" stroke-width="1.3"/>
<line x1="430.3" y1="151.4" x2="430.3" y2="223.0" stroke="#c4c4c4" stroke-width="1"/>
<rect x="296.85" y="167.15" width="5.5" height="55.85" fill="#737373" stroke="#383838" stroke-width="0.8"/>
<rect x="310.68" y="167.15" width="5.5" height="55.85" fill="#737373" stroke="#383838" stroke-width="0.8"/>
<rect x="324.51" y="202.38" width="5.5" height="20.62" fill="#737373" stroke="#383838" stroke-width="0.8"/>
<rect x="338.34" y="218.27" width="5.5" height="4.73" fill="#737373" stroke="#383838" stroke-width="0.8"/>
<rect x="352.17" y="215.41" width="5.5" height="7.59" fill="#737373" stroke="#383838" stroke-width="0.8"/>
<rect x="366" y="218.7" width="5.5" height="4.3" fill="#737373" stroke="#383838" stroke-width="0.8"/>
<rect x="379.83" y="218.85" width="5.5" height="4.15" fill="#737373" stroke="#383838" stroke-width="0.8"/>
<rect x="393.66" y="221.42" width="5.5" height="1.58" fill="#737373" stroke="#383838" stroke-width="0.8"/>
<rect x="407.49" y="221.14" width="5.5" height="1.86" fill="#737373" stroke="#383838" stroke-width="0.8"/>
<rect x="421.32" y="205.82" width="5.5" height="17.18" fill="#737373" stroke="#383838" stroke-width="0.8"/>
<line x1="292.5" y1="151.4" x2="292.5" y2="223.0" stroke="#9a9a9a" stroke-width="1.0"/>
<line x1="292.5" y1="223.0" x2="430.3" y2="223.0" stroke="#555555" stroke-width="1.0"/>
<line x1="291.0" y1="223" x2="292.5" y2="223" stroke="#555555" stroke-width="0.7"/>
<text transform="translate(291.3 224.3) scale(0.8 1)" font-size="3.6" text-anchor="end" font-weight="bold" fill="#1a1a1a" font-family="Liberation Sans">0</text>
<line x1="291.0" y1="208.68" x2="292.5" y2="208.68" stroke="#555555" stroke-width="0.7"/>
<text transform="translate(291.3 209.98) scale(0.8 1)" font-size="3.6" text-anchor="end" font-weight="bold" fill="#1a1a1a" font-family="Liberation Sans">1000</text>
<line x1="291.0" y1="194.36" x2="292.5" y2="194.36" stroke="#555555" stroke-width="0.7"/>
<text transform="translate(291.3 195.66) scale(0.8 1)" font-size="3.6" text-anchor="end" font-weight="bold" fill="#1a1a1a" font-family="Liberation Sans">2000</text>
<line x1="291.0" y1="180.04" x2="292.5" y2="180.04" stroke="#555555" stroke-width="0.7"/>
<text transform="translate(291.3 181.34) scale(0.8 1)" font-size="3.6" text-anchor="end" font-weight="bold" fill="#1a1a1a" font-family="Liberation Sans">3000</text>
<line x1="291.0" y1="165.72" x2="292.5" y2="165.72" stroke="#555555" stroke-width="0.7"/>
<text transform="translate(291.3 167.02) scale(0.8 1)" font-size="3.6" text-anchor="end" font-weight="bold" fill="#1a1a1a" font-family="Liberation Sans">4000</text>
<line x1="291.0" y1="151.4" x2="292.5" y2="151.4" stroke="#555555" stroke-width="0.7"/>
<text transform="translate(291.3 152.7) scale(0.8 1)" font-size="3.6" text-anchor="end" font-weight="bold" fill="#1a1a1a" font-family="Liberation Sans">5000</text>
<line x1="292.69" y1="223.0" x2="292.69" y2="224.2" stroke="#555555" stroke-width="0.6"/>
<line x1="306.52" y1="223.0" x2="306.52" y2="224.2" stroke="#555555" stroke-width="0.6"/>
<line x1="320.35" y1="223.0" x2="320.35" y2="224.2" stroke="#555555" stroke-width="0.6"/>
<line x1="334.18" y1="223.0" x2="334.18" y2="224.2" stroke="#555555" stroke-width="0.6"/>
<line x1="348" y1="223.0" x2="348" y2="224.2" stroke="#555555" stroke-width="0.6"/>
<line x1="361.84" y1="223.0" x2="361.84" y2="224.2" stroke="#555555" stroke-width="0.6"/>
<line x1="375.67" y1="223.0" x2="375.67" y2="224.2" stroke="#555555" stroke-width="0.6"/>
<line x1="389.5" y1="223.0" x2="389.5" y2="224.2" stroke="#555555" stroke-width="0.6"/>
<line x1="403.33" y1="223.0" x2="403.33" y2="224.2" stroke="#555555" stroke-width="0.6"/>
<line x1="417.16" y1="223.0" x2="417.16" y2="224.2" stroke="#555555" stroke-width="0.6"/>
<text x="299.6" y="228.6" font-size="4" text-anchor="middle" font-weight="bold" fill="#1a1a1a" font-family="Liberation Sans" >N25</text>
<text x="313.43" y="228.6" font-size="4" text-anchor="middle" font-weight="bold" fill="#1a1a1a" font-family="Liberation Sans" >N30</text>
<text x="327.26" y="228.6" font-size="4" text-anchor="middle" font-weight="bold" fill="#1a1a1a" font-family="Liberation Sans" >N35</text>
<text x="341.09" y="228.6" font-size="4" text-anchor="middle" font-weight="bold" fill="#1a1a1a" font-family="Liberation Sans" >N40</text>
<text x="354.92" y="228.6" font-size="4" text-anchor="middle" font-weight="bold" fill="#1a1a1a" font-family="Liberation Sans" >N45</text>
<text x="368.75" y="228.6" font-size="4" text-anchor="middle" font-weight="bold" fill="#1a1a1a" font-family="Liberation Sans" >N50</text>
<text x="382.58" y="228.6" font-size="4" text-anchor="middle" font-weight="bold" fill="#1a1a1a" font-family="Liberation Sans" >N60</text>
<text x="396.41" y="228.6" font-size="4" text-anchor="middle" font-weight="bold" fill="#1a1a1a" font-family="Liberation Sans" >N100</text>
<text x="410.24" y="228.6" font-size="4" text-anchor="middle" font-weight="bold" fill="#1a1a1a" font-family="Liberation Sans" >N120</text>
<text x="424.07" y="228.6" font-size="4" text-anchor="middle" font-weight="bold" fill="#1a1a1a" font-family="Liberation Sans" >DF</text>
<text textLength="12.3" lengthAdjust="spacingAndGlyphs" x="280.9" y="182.5" font-size="4" text-anchor="middle" font-weight="bold" fill="#333" font-family="Liberation Sans" transform="rotate(-90 280.9 182.5)">K<tspan font-size="2.48" dy="0.68">d</tspan><tspan dy="-0.68">, nM</tspan></text>
<rect x="446.5" y="133.5" width="71" height="101" fill="none" stroke="#5a5a5a" stroke-width="1"/>
<line x1="481.5" y1="133.5" x2="481.5" y2="234.5" stroke="#5a5a5a" stroke-width="1"/>
<line x1="446.5" y1="143.5" x2="517.5" y2="143.5" stroke="#5a5a5a" stroke-width="1"/>
<line x1="446.5" y1="152.5" x2="517.5" y2="152.5" stroke="#5a5a5a" stroke-width="1"/>
<line x1="446.5" y1="161.5" x2="517.5" y2="161.5" stroke="#5a5a5a" stroke-width="1"/>
<line x1="446.5" y1="170.5" x2="517.5" y2="170.5" stroke="#5a5a5a" stroke-width="1"/>
<line x1="446.5" y1="179.5" x2="517.5" y2="179.5" stroke="#5a5a5a" stroke-width="1"/>
<line x1="446.5" y1="188.5" x2="517.5" y2="188.5" stroke="#5a5a5a" stroke-width="1"/>
<line x1="446.5" y1="197.5" x2="517.5" y2="197.5" stroke="#5a5a5a" stroke-width="1"/>
<line x1="446.5" y1="206.5" x2="517.5" y2="206.5" stroke="#5a5a5a" stroke-width="1"/>
<line x1="446.5" y1="216.5" x2="517.5" y2="216.5" stroke="#5a5a5a" stroke-width="1"/>
<line x1="446.5" y1="225.5" x2="517.5" y2="225.5" stroke="#5a5a5a" stroke-width="1"/>
<text class="t" transform="translate(483.3 141.38) scale(1.0 1)" font-size="8" font-weight="bold" fill="#1a1a1a" font-family="Liberation Sans">K<tspan font-size="4.4" dy="1.44">d</tspan><tspan dy="-1.44">, nM</tspan></text>
<text class="t" transform="translate(448.3 150.88) scale(0.97 1)" font-size="8" text-anchor="start" font-weight="bold" fill="#1a1a1a" font-family="Liberation Sans">N25</text>
<text class="t" transform="translate(515.7 150.88) scale(0.98 1)" font-size="8" text-anchor="end" font-weight="normal" fill="#1a1a1a" font-family="Liberation Sans">3900</text>
<text class="t" transform="translate(448.3 159.88) scale(0.97 1)" font-size="8" text-anchor="start" font-weight="bold" fill="#1a1a1a" font-family="Liberation Sans">N30</text>
<text class="t" transform="translate(515.7 159.88) scale(0.98 1)" font-size="8" text-anchor="end" font-weight="normal" fill="#1a1a1a" font-family="Liberation Sans">3900</text>
<text class="t" transform="translate(448.3 168.88) scale(0.97 1)" font-size="8" text-anchor="start" font-weight="bold" fill="#1a1a1a" font-family="Liberation Sans">N35</text>
<text class="t" transform="translate(515.7 168.88) scale(0.98 1)" font-size="8" text-anchor="end" font-weight="normal" fill="#1a1a1a" font-family="Liberation Sans">1440</text>
<text class="t" transform="translate(448.3 177.88) scale(0.97 1)" font-size="8" text-anchor="start" font-weight="bold" fill="#1a1a1a" font-family="Liberation Sans">N40</text>
<text class="t" transform="translate(515.7 177.88) scale(0.98 1)" font-size="8" text-anchor="end" font-weight="normal" fill="#1a1a1a" font-family="Liberation Sans">330</text>
<text class="t" transform="translate(448.3 186.88) scale(0.97 1)" font-size="8" text-anchor="start" font-weight="bold" fill="#1a1a1a" font-family="Liberation Sans">N45</text>
<text class="t" transform="translate(515.7 186.88) scale(0.98 1)" font-size="8" text-anchor="end" font-weight="normal" fill="#1a1a1a" font-family="Liberation Sans">530</text>
<text class="t" transform="translate(448.3 195.88) scale(0.97 1)" font-size="8" text-anchor="start" font-weight="bold" fill="#1a1a1a" font-family="Liberation Sans">N50</text>
<text class="t" transform="translate(515.7 195.88) scale(0.98 1)" font-size="8" text-anchor="end" font-weight="normal" fill="#1a1a1a" font-family="Liberation Sans">300</text>
<text class="t" transform="translate(448.3 204.88) scale(0.97 1)" font-size="8" text-anchor="start" font-weight="bold" fill="#1a1a1a" font-family="Liberation Sans">N60</text>
<text class="t" transform="translate(515.7 204.88) scale(0.98 1)" font-size="8" text-anchor="end" font-weight="normal" fill="#1a1a1a" font-family="Liberation Sans">290</text>
<text class="t" transform="translate(448.3 214.38) scale(0.97 1)" font-size="8" text-anchor="start" font-weight="bold" fill="#1a1a1a" font-family="Liberation Sans">N100</text>
<text class="t" transform="translate(515.7 214.38) scale(0.98 1)" font-size="8" text-anchor="end" font-weight="normal" fill="#1a1a1a" font-family="Liberation Sans">110</text>
<text class="t" transform="translate(448.3 223.88) scale(0.97 1)" font-size="8" text-anchor="start" font-weight="bold" fill="#1a1a1a" font-family="Liberation Sans">N120</text>
<text class="t" transform="translate(515.7 223.88) scale(0.98 1)" font-size="8" text-anchor="end" font-weight="normal" fill="#1a1a1a" font-family="Liberation Sans">130</text>
<text class="t" transform="translate(448.3 232.88) scale(0.97 1)" font-size="8" text-anchor="start" font-weight="bold" fill="#1a1a1a" font-family="Liberation Sans">DF</text>
<text class="t" transform="translate(515.7 232.88) scale(0.98 1)" font-size="8" text-anchor="end" font-weight="normal" fill="#1a1a1a" font-family="Liberation Sans">1200</text>
<rect x="273.9" y="243.5" width="161.6" height="99.7" fill="none" stroke="#8a8a8a" stroke-width="1"/>
<text class="t" transform="translate(353.1 249.5) scale(0.92 1)" font-size="4.8" text-anchor="middle" font-weight="bold" fill="#1a1a1a" font-family="Liberation Sans">VEGF</text>
<line x1="295.6" y1="261.2" x2="432.2" y2="261.2" stroke="#c4c4c4" stroke-width="1.3"/>
<line x1="432.2" y1="261.2" x2="432.2" y2="330.1" stroke="#c4c4c4" stroke-width="1"/>
<rect x="300.75" y="274.41" width="6.7" height="55.69" fill="#c4c4c4" stroke="#4a4a4a" stroke-width="0.8"/>
<rect x="317.85" y="293.35" width="6.7" height="36.75" fill="#c4c4c4" stroke="#4a4a4a" stroke-width="0.8"/>
<rect x="334.95" y="301.39" width="6.7" height="28.71" fill="#c4c4c4" stroke="#4a4a4a" stroke-width="0.8"/>
<rect x="352.05" y="325.51" width="6.7" height="4.59" fill="#c4c4c4" stroke="#4a4a4a" stroke-width="0.8"/>
<rect x="369.15" y="329.53" width="6.7" height="0.57" fill="#c4c4c4" stroke="#4a4a4a" stroke-width="0.8"/>
<rect x="386.25" y="329.41" width="6.7" height="0.69" fill="#c4c4c4" stroke="#4a4a4a" stroke-width="0.8"/>
<rect x="403.35" y="329.53" width="6.7" height="0.57" fill="#c4c4c4" stroke="#4a4a4a" stroke-width="0.8"/>
<rect x="420.45" y="329.76" width="6.7" height="0.34" fill="#c4c4c4" stroke="#4a4a4a" stroke-width="0.8"/>
<line x1="295.6" y1="261.2" x2="295.6" y2="330.1" stroke="#9a9a9a" stroke-width="1.0"/>
<line x1="295.6" y1="330.1" x2="432.2" y2="330.1" stroke="#555555" stroke-width="1.0"/>
<line x1="294.1" y1="330.1" x2="295.6" y2="330.1" stroke="#555555" stroke-width="0.7"/>
<text x="291" y="331.68" font-size="4.4" text-anchor="end" font-weight="bold" fill="#1a1a1a" font-family="Liberation Sans" >0</text>
<line x1="294.1" y1="318.62" x2="295.6" y2="318.62" stroke="#555555" stroke-width="0.7"/>
<text x="291" y="320.2" font-size="4.4" text-anchor="end" font-weight="bold" fill="#1a1a1a" font-family="Liberation Sans" >10</text>
<line x1="294.1" y1="307.13" x2="295.6" y2="307.13" stroke="#555555" stroke-width="0.7"/>
<text x="291" y="308.72" font-size="4.4" text-anchor="end" font-weight="bold" fill="#1a1a1a" font-family="Liberation Sans" >20</text>
<line x1="294.1" y1="295.65" x2="295.6" y2="295.65" stroke="#555555" stroke-width="0.7"/>
<text x="291" y="297.23" font-size="4.4" text-anchor="end" font-weight="bold" fill="#1a1a1a" font-family="Liberation Sans" >30</text>
<line x1="294.1" y1="284.17" x2="295.6" y2="284.17" stroke="#555555" stroke-width="0.7"/>
<text x="291" y="285.75" font-size="4.4" text-anchor="end" font-weight="bold" fill="#1a1a1a" font-family="Liberation Sans" >40</text>
<line x1="294.1" y1="272.68" x2="295.6" y2="272.68" stroke="#555555" stroke-width="0.7"/>
<text x="291" y="274.27" font-size="4.4" text-anchor="end" font-weight="bold" fill="#1a1a1a" font-family="Liberation Sans" >50</text>
<line x1="294.1" y1="261.2" x2="295.6" y2="261.2" stroke="#555555" stroke-width="0.7"/>
<text x="291" y="262.78" font-size="4.4" text-anchor="end" font-weight="bold" fill="#1a1a1a" font-family="Liberation Sans" >60</text>
<line x1="295.55" y1="330.1" x2="295.55" y2="331.3" stroke="#555555" stroke-width="0.6"/>
<line x1="312.65" y1="330.1" x2="312.65" y2="331.3" stroke="#555555" stroke-width="0.6"/>
<line x1="329.75" y1="330.1" x2="329.75" y2="331.3" stroke="#555555" stroke-width="0.6"/>
<line x1="346.85" y1="330.1" x2="346.85" y2="331.3" stroke="#555555" stroke-width="0.6"/>
<line x1="363.95" y1="330.1" x2="363.95" y2="331.3" stroke="#555555" stroke-width="0.6"/>
<line x1="381.05" y1="330.1" x2="381.05" y2="331.3" stroke="#555555" stroke-width="0.6"/>
<line x1="398.15" y1="330.1" x2="398.15" y2="331.3" stroke="#555555" stroke-width="0.6"/>
<line x1="415.25" y1="330.1" x2="415.25" y2="331.3" stroke="#555555" stroke-width="0.6"/>
<line x1="432.35" y1="330.1" x2="432.35" y2="331.3" stroke="#555555" stroke-width="0.6"/>
<text x="304.1" y="338.3" font-size="4.8" text-anchor="middle" font-weight="bold" fill="#1a1a1a" font-family="Liberation Sans" >T25</text>
<text x="321.2" y="338.3" font-size="4.8" text-anchor="middle" font-weight="bold" fill="#1a1a1a" font-family="Liberation Sans" >T40</text>
<text x="338.3" y="338.3" font-size="4.8" text-anchor="middle" font-weight="bold" fill="#1a1a1a" font-family="Liberation Sans" >T50</text>
<text x="355.4" y="338.3" font-size="4.8" text-anchor="middle" font-weight="bold" fill="#1a1a1a" font-family="Liberation Sans" >T80</text>
<text x="372.5" y="338.3" font-size="4.8" text-anchor="middle" font-weight="bold" fill="#1a1a1a" font-family="Liberation Sans" >T100</text>
<text x="389.6" y="338.3" font-size="4.8" text-anchor="middle" font-weight="bold" fill="#1a1a1a" font-family="Liberation Sans" >T120</text>
<text x="406.7" y="338.3" font-size="4.8" text-anchor="middle" font-weight="bold" fill="#1a1a1a" font-family="Liberation Sans" >T150</text>
<text x="423.8" y="338.3" font-size="4.8" text-anchor="middle" font-weight="bold" fill="#1a1a1a" font-family="Liberation Sans" >T200</text>
<text textLength="14" lengthAdjust="spacingAndGlyphs" x="283" y="296.5" font-size="5" text-anchor="middle" font-weight="bold" fill="#1a1a1a" font-family="Liberation Sans" transform="rotate(-90 283 296.5)">K<tspan font-size="3.1" dy="0.85">d</tspan><tspan dy="-0.85">, &#181;M</tspan></text>
<rect x="447.5" y="250.5" width="70" height="83" fill="none" stroke="#5a5a5a" stroke-width="1"/>
<line x1="482.5" y1="250.5" x2="482.5" y2="333.5" stroke="#5a5a5a" stroke-width="1"/>
<line x1="447.5" y1="259.5" x2="517.5" y2="259.5" stroke="#5a5a5a" stroke-width="1"/>
<line x1="447.5" y1="269.5" x2="517.5" y2="269.5" stroke="#5a5a5a" stroke-width="1"/>
<line x1="447.5" y1="278.5" x2="517.5" y2="278.5" stroke="#5a5a5a" stroke-width="1"/>
<line x1="447.5" y1="287.5" x2="517.5" y2="287.5" stroke="#5a5a5a" stroke-width="1"/>
<line x1="447.5" y1="296.5" x2="517.5" y2="296.5" stroke="#5a5a5a" stroke-width="1"/>
<line x1="447.5" y1="305.5" x2="517.5" y2="305.5" stroke="#5a5a5a" stroke-width="1"/>
<line x1="447.5" y1="314.5" x2="517.5" y2="314.5" stroke="#5a5a5a" stroke-width="1"/>
<line x1="447.5" y1="324.5" x2="517.5" y2="324.5" stroke="#5a5a5a" stroke-width="1"/>
<text class="t" transform="translate(484 257.88) scale(1.0 1)" font-size="8" font-weight="bold" fill="#1a1a1a" font-family="Liberation Sans">K<tspan font-size="4.4" dy="1.44">d</tspan><tspan dy="-1.44">, &#181;M</tspan></text>
<text class="t" transform="translate(449.3 267.38) scale(0.9 1)" font-size="8" text-anchor="start" font-weight="bold" fill="#1a1a1a" font-family="Liberation Sans">T25</text>
<text class="t" transform="translate(516 267.38) scale(0.93 1)" font-size="8" text-anchor="end" font-weight="normal" fill="#1a1a1a" font-family="Liberation Sans">50</text>
<text class="t" transform="translate(449.3 276.88) scale(0.9 1)" font-size="8" text-anchor="start" font-weight="bold" fill="#1a1a1a" font-family="Liberation Sans">T40</text>
<text class="t" transform="translate(516 276.88) scale(0.93 1)" font-size="8" text-anchor="end" font-weight="normal" fill="#1a1a1a" font-family="Liberation Sans">30</text>
<text class="t" transform="translate(449.3 285.88) scale(0.9 1)" font-size="8" text-anchor="start" font-weight="bold" fill="#1a1a1a" font-family="Liberation Sans">T50</text>
<text class="t" transform="translate(516 285.88) scale(0.93 1)" font-size="8" text-anchor="end" font-weight="normal" fill="#1a1a1a" font-family="Liberation Sans">25</text>
<text class="t" transform="translate(449.3 294.88) scale(0.9 1)" font-size="8" text-anchor="start" font-weight="bold" fill="#1a1a1a" font-family="Liberation Sans">T80</text>
<text class="t" transform="translate(516 294.88) scale(0.93 1)" font-size="8" text-anchor="end" font-weight="normal" fill="#1a1a1a" font-family="Liberation Sans">4</text>
<text class="t" transform="translate(449.3 303.88) scale(0.9 1)" font-size="8" text-anchor="start" font-weight="bold" fill="#1a1a1a" font-family="Liberation Sans">T100</text>
<text class="t" transform="translate(516 303.88) scale(0.93 1)" font-size="8" text-anchor="end" font-weight="normal" fill="#1a1a1a" font-family="Liberation Sans">0.5</text>
<text class="t" transform="translate(449.3 312.88) scale(0.9 1)" font-size="8" text-anchor="start" font-weight="bold" fill="#1a1a1a" font-family="Liberation Sans">T120</text>
<text class="t" transform="translate(516 312.88) scale(0.93 1)" font-size="8" text-anchor="end" font-weight="normal" fill="#1a1a1a" font-family="Liberation Sans">0.6</text>
<text class="t" transform="translate(449.3 322.38) scale(0.9 1)" font-size="8" text-anchor="start" font-weight="bold" fill="#1a1a1a" font-family="Liberation Sans">T150</text>
<text class="t" transform="translate(516 322.38) scale(0.93 1)" font-size="8" text-anchor="end" font-weight="normal" fill="#1a1a1a" font-family="Liberation Sans">0.5</text>
<text class="t" transform="translate(449.3 331.88) scale(0.9 1)" font-size="8" text-anchor="start" font-weight="bold" fill="#1a1a1a" font-family="Liberation Sans">T200</text>
<text class="t" transform="translate(516 331.88) scale(0.93 1)" font-size="8" text-anchor="end" font-weight="normal" fill="#1a1a1a" font-family="Liberation Sans">0.3</text>
</svg></body></html>
